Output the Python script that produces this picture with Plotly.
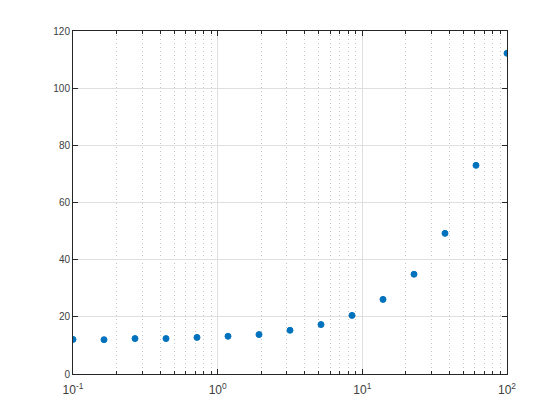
import plotly.graph_objects as go

# sample points (logspace(-1, 2, 15)) and measured values
x_vals = [0.1, 0.1638, 0.2683, 0.4394, 0.7197, 1.1788, 1.9307, 3.1623,
          5.1795, 8.4834, 13.895, 22.758, 37.276, 61.054, 100.0]
y_vals = [12.1, 12.0, 12.4, 12.4, 12.8, 13.2, 13.8, 15.3, 17.3, 20.5,
          26.1, 34.9, 49.2, 73.0, 112.2]

x_tickvals = [0.1, 1, 10, 100]
x_ticktext = ['10<sup>-1</sup>', '10<sup>0</sup>', '10<sup>1</sup>', '10<sup>2</sup>']
x_minor = [m * 10 ** e for e in (-1, 0, 1) for m in range(2, 10)]
y_tickvals = [0, 20, 40, 60, 80, 100, 120]

fig = go.Figure()
fig.add_trace(go.Scatter(
    x=x_vals, y=y_vals, mode='markers',
    marker=dict(color='#0072BD', size=6, symbol='circle',
                line=dict(color='#0072BD', width=1)),
    showlegend=False))

axis_common = dict(
    showline=True, linecolor='#262626', linewidth=1, mirror='allticks',
    ticks='inside', ticklen=5, tickcolor='#262626',
    zeroline=False, gridcolor='#dfdfdf', gridwidth=1)

fig.update_xaxes(type='log', range=[-1, 2], tickvals=x_tickvals, ticktext=x_ticktext,
                 tickfont=dict(family='Liberation Sans', size=12, color='#404040'),
                 ticklabelstandoff=5,
                 minor=dict(tickvals=x_minor, ticks='inside', ticklen=3, tickcolor='#262626',
                            showgrid=True, gridcolor='#c4c4c4', griddash='1px,3px', gridwidth=1),
                 **axis_common)
fig.update_yaxes(range=[0, 120], tickvals=y_tickvals,
                 tickfont=dict(family='Liberation Sans', size=10, color='#404040'),
                 **axis_common)

# the page body adds an 8px offset, so the margins are shifted to compensate
fig.update_layout(width=560, height=420, plot_bgcolor='white', paper_bgcolor='white',
                  margin=dict(l=65, r=61, t=23, b=54),
                  font=dict(family='Liberation Sans', size=10, color='#404040'))

fig.write_html("out.html")
